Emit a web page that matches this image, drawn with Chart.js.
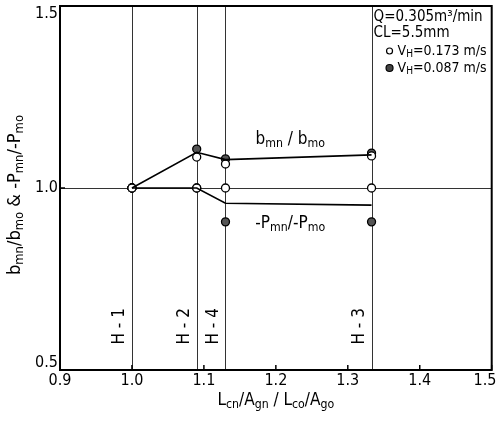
<!DOCTYPE html>
<html>
<head>
<meta charset="utf-8">
<script src="https://cdn.jsdelivr.net/npm/chart.js@4/dist/chart.umd.min.js"></script>
<style>
  html, body { margin: 0; padding: 0; background: #fff; }
  #wrap { width: 497px; height: 423px; }
</style>
</head>
<body>
<div id="wrap"><canvas id="c" width="497" height="423"></canvas></div>
<script>
// gauge positions (Lcn/Agn / Lco/Ago) and measured ratios
const positions = [1.0, 1.09, 1.13, 1.333];
const gaugeNames = ["H-1", "H-2", "H-4", "H-3"];
const bOpen = [1.0, 1.085, 1.066, 1.088];
const bFilled = [1.0, 1.107, 1.080, 1.096];
const pOpen = [1.0, 1.0, 1.0, 1.0];
const pFilled = [1.0, 1.0, 0.907, 0.907];
const bLine = [1.0, 1.098, 1.078, 1.091];
const pLine = [1.0, 1.0, 0.958, 0.953];
const xTicks = [0.9, 1.0, 1.1, 1.2, 1.3, 1.4, 1.5];
const yTicks = [0.5, 1.0, 1.5];

const FONT = "'DejaVu Sans Condensed', 'Liberation Sans', sans-serif";
const pts = ys => positions.map((x, i) => ({ x: x, y: ys[i] }));

// text with subscripts: parts = [[text, isSub], ...]
function drawSubText(ctx, parts, x, y, size, align) {
  let w = 0;
  parts.forEach(p => {
    ctx.font = (p[1] ? size * 0.72 : size) + "px " + FONT;
    w += ctx.measureText(p[0]).width;
  });
  let cx = align === "center" ? x - w / 2 : x;
  parts.forEach(p => {
    ctx.font = (p[1] ? size * 0.72 : size) + "px " + FONT;
    ctx.fillText(p[0], cx, p[1] ? y + size * 0.25 : y);
    cx += ctx.measureText(p[0]).width;
  });
}

const decor = {
  id: "decor",
  beforeDatasetsDraw(chart) {
    const { ctx, chartArea: a, scales: { x, y } } = chart;
    ctx.save();
    ctx.strokeStyle = "#333";
    ctx.lineWidth = 1;
    // gauge verticals
    positions.forEach(v => {
      const px = Math.round(x.getPixelForValue(v)) + 0.5;
      ctx.beginPath(); ctx.moveTo(px, a.top); ctx.lineTo(px, a.bottom); ctx.stroke();
    });
    // reference line at 1.0
    const py = Math.round(y.getPixelForValue(1.0)) + 0.5;
    ctx.beginPath(); ctx.moveTo(a.left, py); ctx.lineTo(a.right, py); ctx.stroke();
    ctx.restore();
  },
  afterDraw(chart) {
    const { ctx, chartArea: a, scales: { x, y } } = chart;
    ctx.save();
    ctx.strokeStyle = "#000";
    ctx.lineWidth = 2;
    ctx.strokeRect(a.left, a.top, a.right - a.left, a.bottom - a.top);
    // inward ticks
    ctx.lineWidth = 1.5;
    xTicks.forEach(v => {
      const px = x.getPixelForValue(v);
      ctx.beginPath(); ctx.moveTo(px, a.bottom); ctx.lineTo(px, a.bottom - 5); ctx.stroke();
    });
    yTicks.forEach(v => {
      const py = y.getPixelForValue(v);
      ctx.beginPath(); ctx.moveTo(a.left, py); ctx.lineTo(a.left + 5, py); ctx.stroke();
    });

    ctx.fillStyle = "#000";
    // tick labels, kept inside the canvas
    ctx.font = "16px " + FONT;
    ctx.textAlign = "center";
    ctx.textBaseline = "top";
    xTicks.forEach(v => {
      const px = Math.min(x.getPixelForValue(v), chart.width - 12);
      ctx.fillText(v.toFixed(1), px, a.bottom + 3);
    });
    ctx.textAlign = "right";
    ctx.textBaseline = "middle";
    yTicks.forEach(v => {
      const py = Math.max(a.top + 8, Math.min(y.getPixelForValue(v), a.bottom - 7));
      ctx.fillText(v.toFixed(1), a.left - 2, py);
    });

    // gauge names, rotated
    gaugeNames.forEach((n, i) => {
      const px = x.getPixelForValue(positions[i]) - 12;
      ctx.save();
      ctx.translate(px, y.getPixelForValue(0.62));
      ctx.rotate(-Math.PI / 2);
      ctx.font = "17px " + FONT;
      ctx.textAlign = "center";
      ctx.fillText(n.replace("-", " - "), 0, 0);
      ctx.restore();
    });

    // curve labels
    ctx.textAlign = "left";
    drawSubText(ctx, [["b", 0], ["mn", 1], [" / b", 0], ["mo", 1]],
      x.getPixelForValue(1.22), y.getPixelForValue(1.132), 17, "center");
    drawSubText(ctx, [["-P", 0], ["mn", 1], ["/-P", 0], ["mo", 1]],
      x.getPixelForValue(1.22), y.getPixelForValue(0.902), 17, "center");

    // axis titles
    drawSubText(ctx, [["L", 0], ["cn", 1], ["/A", 0], ["gn", 1], [" / L", 0], ["co", 1], ["/A", 0], ["go", 1]],
      (a.left + a.right) / 2, 401, 17, "center");
    ctx.save();
    ctx.translate(15, 195);
    ctx.rotate(-Math.PI / 2);
    drawSubText(ctx, [["b", 0], ["mn", 1], ["/b", 0], ["mo", 1], [" & -P", 0], ["mn", 1], ["/-P", 0], ["mo", 1]],
      0, 0, 18, "center");
    ctx.restore();

    // conditions block
    const lx = x.getPixelForValue(1.333) + 2;
    ctx.font = "15px " + FONT;
    ctx.fillText("Q=0.305m\u00B3/min", lx, a.top + 11);
    ctx.fillText("CL=5.5mm", lx, a.top + 27);
    drawSubText(ctx, [["V", 0], ["H", 1], ["=0.173 m/s", 0]], lx + 24, a.top + 45, 14, "left");
    drawSubText(ctx, [["V", 0], ["H", 1], ["=0.087 m/s", 0]], lx + 24, a.top + 62, 14, "left");
    ctx.beginPath(); ctx.arc(lx + 16, a.top + 45, 3, 0, Math.PI * 2);
    ctx.lineWidth = 1.2; ctx.stroke();
    ctx.beginPath(); ctx.arc(lx + 16, a.top + 62, 3.5, 0, Math.PI * 2);
    ctx.fillStyle = "#444"; ctx.fill(); ctx.stroke();
    ctx.restore();
  }
};

new Chart(document.getElementById("c"), {
  type: "scatter",
  data: {
    datasets: [
      { data: pts(bLine), showLine: true, borderColor: "#000", borderWidth: 1.6, pointRadius: 0 },
      { data: pts(pLine), showLine: true, borderColor: "#000", borderWidth: 1.6, pointRadius: 0 },
      { label: "VH=0.173", data: pts(bOpen), pointRadius: 4, pointBackgroundColor: "#fff", pointBorderColor: "#000", pointBorderWidth: 1.3 },
      { label: "VH=0.173", data: pts(pOpen), pointRadius: 4, pointBackgroundColor: "#fff", pointBorderColor: "#000", pointBorderWidth: 1.3 },
      { label: "VH=0.087", data: pts(bFilled), pointRadius: 4, pointBackgroundColor: "#555", pointBorderColor: "#000", pointBorderWidth: 1.3 },
      { label: "VH=0.087", data: pts(pFilled), pointRadius: 4, pointBackgroundColor: "#555", pointBorderColor: "#000", pointBorderWidth: 1.3 }
    ]
  },
  options: {
    responsive: false,
    animation: false,
    layout: { padding: { top: 6, right: 4, left: 0, bottom: 0 } },
    plugins: { legend: { display: false }, tooltip: { enabled: false } },
    scales: {
      x: {
        type: "linear", min: 0.9, max: 1.5,
        afterBuildTicks: s => { s.ticks = xTicks.map(v => ({ value: v })); },
        afterFit: s => { s.height = 53; },
        grid: { display: false, drawTicks: false },
        border: { display: false },
        ticks: { display: false }
      },
      y: {
        type: "linear", min: 0.5, max: 1.5,
        afterBuildTicks: s => { s.ticks = yTicks.map(v => ({ value: v })); },
        afterFit: s => { s.width = 60; },
        grid: { display: false, drawTicks: false },
        border: { display: false },
        ticks: { display: false }
      }
    }
  },
  plugins: [decor]
});
</script>
</body>
</html>
